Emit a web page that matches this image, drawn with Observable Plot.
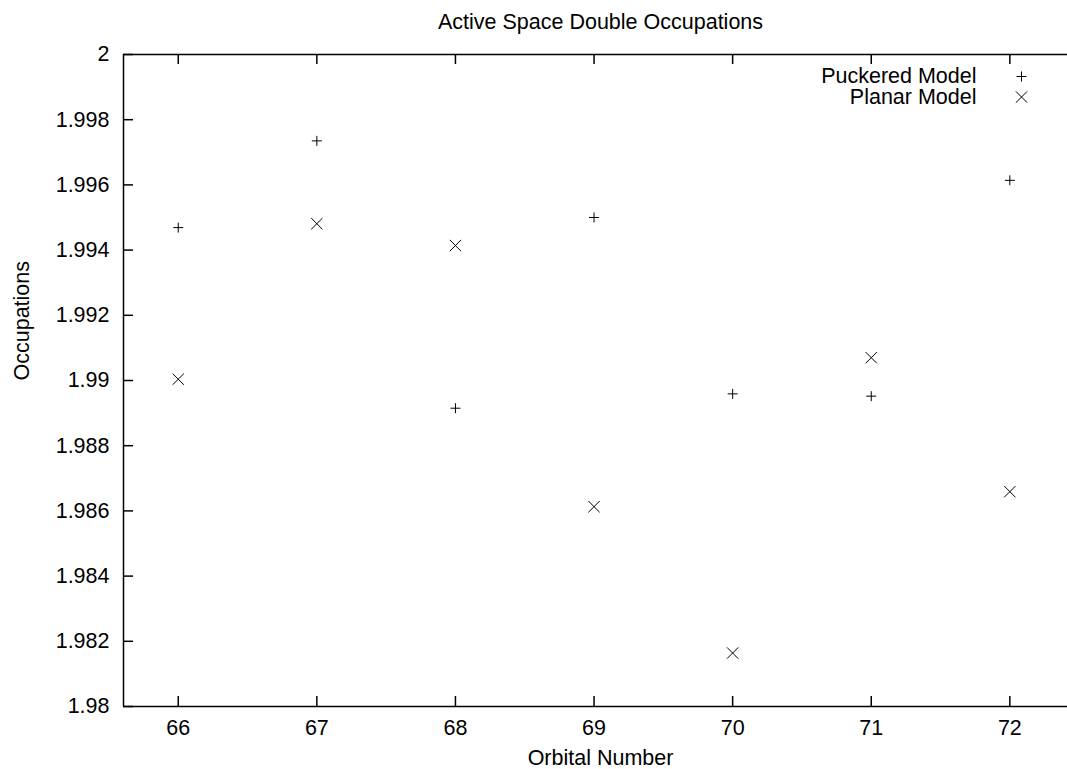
<!DOCTYPE html>
<html>
<head>
<meta charset="utf-8">
<script src="https://cdn.jsdelivr.net/npm/d3@7"></script>
<script src="https://cdn.jsdelivr.net/npm/@observablehq/plot@0.6"></script>
<style>
  html, body { margin: 0; padding: 0; background: #fff; }
</style>
</head>
<body>
<div id="chart"></div>
<script>
const titleText = "Active Space Double Occupations";
const xLabel = "Orbital Number";
const yLabel = "Occupations";
const seriesNames = ["Puckered Model", "Planar Model"];
const orbitals = [66, 67, 68, 69, 70, 71, 72];
const puckered = [1.99469, 1.99735, 1.98915, 1.99500, 1.98959, 1.98952, 1.99614];
const planar   = [1.99004, 1.99481, 1.99414, 1.98613, 1.98164, 1.99070, 1.98659];
const xTicks = [66, 67, 68, 69, 70, 71, 72];
const yTicks = [1.98, 1.982, 1.984, 1.986, 1.988, 1.99, 1.992, 1.994, 1.996, 1.998, 2];
const xDomain = [65.605, 72.416];
const yDomain = [1.98, 2];

const W = 1067, H = 769;
const mL = 123, mR = 0, mT = 54, mB = 63;
const pw = W - mL - mR, ph = H - mT - mB;
const FS = 21.5;

const rows = [];
orbitals.forEach((o, i) => {
  rows.push({orbital: o, value: puckered[i], series: seriesNames[0]});
  rows.push({orbital: o, value: planar[i], series: seriesNames[1]});
});

const fmt = d => String(+d.toFixed(3));

const chart = Plot.plot({
  width: W,
  height: H,
  marginLeft: mL,
  marginRight: mR,
  marginTop: mT,
  marginBottom: mB,
  style: {fontFamily: "'Liberation Sans', Arial, Helvetica, sans-serif", fontSize: FS + "px", color: "#000", background: "#fff"},
  x: {domain: xDomain},
  y: {domain: yDomain},
  marks: [
    Plot.ruleX([xDomain[0]], {stroke: "#000", strokeWidth: 1.5}),
    Plot.ruleY(yDomain, {stroke: "#000", strokeWidth: 1.5}),
    Plot.tickX(xTicks, {x: d => d, insetTop: ph - 10, stroke: "#000", strokeWidth: 1.5}),
    Plot.tickX(xTicks, {x: d => d, insetBottom: ph - 10, stroke: "#000", strokeWidth: 1.5}),
    Plot.tickY(yTicks, {y: d => d, insetRight: pw - 10, stroke: "#000", strokeWidth: 1.5}),
    Plot.axisX({ticks: xTicks, tickSize: 0, tickPadding: 13, fontSize: FS, label: null, tickFormat: d => String(d)}),
    Plot.axisY({ticks: yTicks, tickSize: 0, tickPadding: 14, fontSize: FS, label: null, tickFormat: fmt}),
    Plot.dot(rows.filter(d => d.series === seriesNames[0]), {x: "orbital", y: "value", symbol: "plus", r: 3.32, stroke: "#000", strokeWidth: 1, fill: "none"}),
    Plot.dot(rows.filter(d => d.series === seriesNames[1]), {x: "orbital", y: "value", symbol: "times", r: 5.2, stroke: "#000", strokeWidth: 1, fill: "none"}),
    Plot.text([seriesNames[0]], {text: d => d, frameAnchor: "top-right", lineAnchor: "middle", dx: -91, dy: 22, textAnchor: "end", fontSize: FS, fill: "#000"}),
    Plot.text([seriesNames[1]], {text: d => d, frameAnchor: "top-right", lineAnchor: "middle", dx: -91, dy: 42.5, textAnchor: "end", fontSize: FS, fill: "#000"}),
    Plot.dot([0], {frameAnchor: "top-right", dx: -46, dy: 22, symbol: "plus", r: 3.32, stroke: "#000", strokeWidth: 1, fill: "none"}),
    Plot.dot([0], {frameAnchor: "top-right", dx: -46, dy: 42.5, symbol: "times", r: 5.2, stroke: "#000", strokeWidth: 1, fill: "none"}),
    Plot.text([titleText], {text: d => d, frameAnchor: "top", lineAnchor: "middle", dx: 5, dy: -32, fontSize: FS, fill: "#000"}),
    Plot.text([xLabel], {text: d => d, frameAnchor: "bottom", lineAnchor: "middle", dx: 5, dy: 52, fontSize: FS, fill: "#000"}),
    Plot.text([yLabel], {text: d => d, frameAnchor: "left", lineAnchor: "middle", dx: -101, rotate: -90, fontSize: FS, fill: "#000"})
  ]
});
document.getElementById("chart").appendChild(chart);
</script>
</body>
</html>
